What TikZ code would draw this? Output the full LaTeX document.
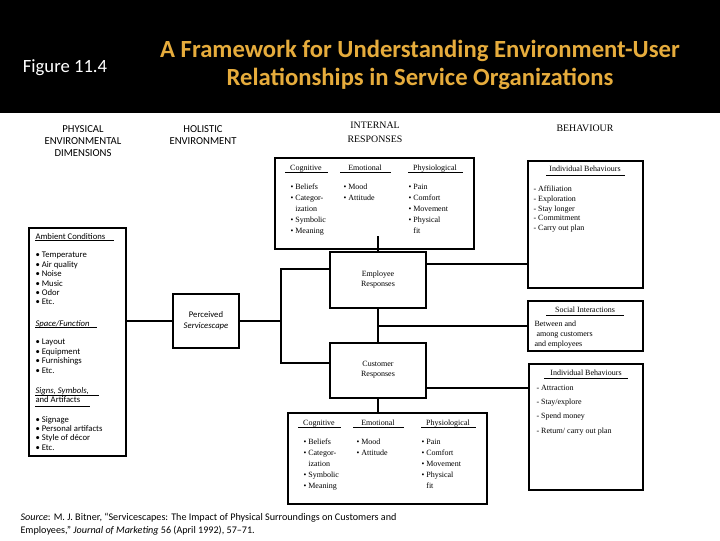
\documentclass[tikz,border=0pt]{standalone}
\usepackage{fontspec}
\setmainfont{Liberation Serif}
\setsansfont{Carlito}
\definecolor{otgold}{HTML}{E6AC3C}

\tikzset{
  wh/.style 2 args={minimum width=#1*0.75pt, minimum height=#2*0.75pt},
  box/.style={draw, inner sep=0pt, line width=0.8pt},
  thickbox/.style={draw, inner sep=0pt, line width=1.9pt},
  uline/.style={line width=0.6pt},
  srf/.style={inner sep=0pt, font=\fontsize{6}{8.3}\selectfont},
  col/.style={srf, anchor=north west, align=left},
  hdr/.style={srf, anchor=base},
  sns/.style={inner sep=0pt, font=\sffamily\fontsize{6.5}{7.1}\selectfont, anchor=north west, align=left},
  ctext/.style={inner sep=0pt, align=center}
}

\begin{document}
\begin{tikzpicture}[x=0.75pt, y=-0.75pt, line width=0.8pt]
    \useasboundingbox (0,0) rectangle (720,540);
    \fill[black] (0,0) rectangle (720,113);
    \node[ctext, text=white, font=\sffamily\fontsize{14}{14}\selectfont] (fig) at (65,68) {Figure 11.4};
    \node[ctext, text=otgold, font=\sffamily\bfseries\fontsize{18.5}{20.5}\selectfont] (title) at (420,65) {A Framework for Understanding Environment-User\\Relationships in Service Organizations};

    \node[ctext, font=\sffamily\fontsize{8}{9}\selectfont] (physhd) at (83,141) {PHYSICAL\\ENVIRONMENTAL\\DIMENSIONS};
    \node[ctext, font=\sffamily\fontsize{8}{9}\selectfont] (holhd) at (203,135) {HOLISTIC\\ENVIRONMENT};
    \node[ctext, font=\fontsize{7.4}{10.5}\selectfont] (inthd) at (375,132) {INTERNAL\\RESPONSES};
    \node[ctext, font=\fontsize{7.4}{10.5}\selectfont] (behhd) at (585,128) {BEHAVIOUR};

    % physical dimensions
    \node[box, wh={97}{228}] (phys) at (77.5,342) {};
    \node[sns] (amb) at (35,232.5) {Ambient Conditions};
    \node[sns] (ambl) at (35,251.5) {• Temperature\\• Air quality\\• Noise\\• Music\\• Odor\\• Etc.};
    \node[sns] (spc) at (35,319.5) {\textit{Space/Function}};
    \node[sns] (spcl) at (35,338.5) {• Layout\\• Equipment\\• Furnishings\\• Etc.};
    \node[sns] (sgn) at (35,386.5) {\textit{Signs, Symbols,}\\and Artifacts};
    \node[sns] (sgnl) at (35,415.5) {• Signage\\• Personal artifacts\\• Style of décor\\• Etc.};

    \node[box, wh={66}{54}] (perc) at (206,321) {};
    \node[ctext, font=\sffamily\fontsize{6.5}{8.2}\selectfont] (perct) at (206,321) {Perceived\\\textit{Servicescape}};

    % internal responses
    \foreach \nm/\dx/\dy in {t/0/0, b/13/255} {
      \begin{scope}[shift={(\dx,\dy)}]
        \node[thickbox, wh={199}{91}] (ir\nm) at (374.5,203.5) {};
        \node[hdr] (cog\nm) at (306,170) {Cognitive};
        \node[hdr] (emo\nm) at (365,170) {Emotional};
        \node[hdr] (phy\nm) at (435,170) {Physiological};
        \foreach \xa/\xb in {285/328, 340/391, 408/463}
          \draw[uline] (\xa,172) -- (\xb,172);
        \node[col] (cogl\nm) at (290,183.5) {• Beliefs\\• Categor-\\\phantom{• }ization\\• Symbolic\\• Meaning};
        \node[col] (emol\nm) at (343,183.5) {• Mood\\• Attitude};
        \node[col] (phyl\nm) at (408,183.5) {• Pain\\• Comfort\\• Movement\\• Physical\\\phantom{• }fit};
      \end{scope}
    }

    \node[box, wh={96}{56}] (emp) at (378,280) {};
    \node[ctext, srf, font=\fontsize{6}{7.5}\selectfont] (empt) at (378,280) {Employee\\Responses};
    \node[box, wh={96}{55}] (cus) at (378,370.5) {};
    \node[ctext, srf, font=\fontsize{6}{7.5}\selectfont] (cust) at (378,370) {Customer\\Responses};

    % behaviour
    \node[box, wh={115}{127}] (ibe) at (585.5,224.5) {};
    \node[hdr] (ibet) at (585,171) {Individual Behaviours};
    \node[col, font=\fontsize{6}{7.3}\selectfont] (ibel) at (533,185.5) {- Affiliation\\- Exploration\\- Stay longer\\- Commitment\\- Carry out plan};
    \node[box, wh={115}{50}] (soc) at (585.5,326) {};
    \node[hdr] (soct) at (585,312) {Social Interactions};
    \node[col, font=\fontsize{6}{7.5}\selectfont] (socl) at (534,320.5) {Between and\\\ among customers\\and employees};
    \node[box, wh={114}{126}] (ibc) at (586,427) {};
    \node[hdr] (ibct) at (586,375) {Individual Behaviours};
    \node[col, font=\fontsize{6}{10.7}\selectfont] (ibcl) at (536,384.5) {- Attraction\\- Stay/explore\\- Spend money\\- Return/ carry out plan};

    \foreach \xa/\xb/\y in {35/114/240, 35/97/327, 35/99/395, 35/90/406, 546/625/175, 546/624/315, 544/628/378}
      \draw[uline] (\xa,\y) -- (\xb,\y);

    % connectors
    \coordinate (jn) at (281,321);
    \draw (phys.east |- perc.west) -- (perc.west);
    \draw (perc.east) -- (jn);
    \draw (jn) |- (emp.west |- 0,269);
    \draw (jn) |- (cus.west |- 0,363);
    \draw (emp.north) -- (emp.north |- 0,236);
    \draw (emp.south) -- (cus.north);
    \draw (emp.south |- soc.west) -- (soc.west);
    \draw (emp.east |- 0,264) -- (ibe.west |- 0,264);
    \draw (cus.east |- 0,388) -- (ibc.west |- 0,388);
    \draw (cus.south) -- (cus.south |- irb.north);

    \node[sns, font=\sffamily\fontsize{7.6}{9.75}\selectfont] (src) at (20,513) {\textit{Source}: M. J. Bitner, “Servicescapes: The Impact of Physical Surroundings on Customers and\\Employees,” \textit{Journal of Marketing} 56 (April 1992), 57–71.};
  \end{tikzpicture}
\end{document}
